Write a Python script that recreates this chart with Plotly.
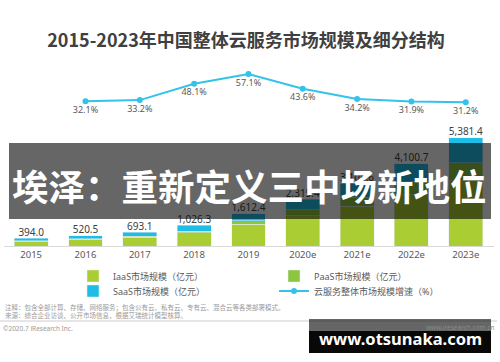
import plotly.graph_objects as go

categories = ["2015", "2016", "2017", "2018", "2019", "2020e", "2021e", "2022e", "2023e"]
iaas = [245.0, 333.0, 446.0, 657.0, 1074.0, 1510.0, 1990.0, 2560.0, 3240.0]
paas = [24.0, 31.0, 45.0, 86.0, 176.0, 300.0, 440.0, 640.0, 900.0]
saas = [125.0, 156.5, 202.1, 283.3, 362.4, 505.4, 678.6, 900.7, 1241.4]
totals = [394.0, 520.5, 693.1, 1026.3, 1612.4, 2315.4, 3108.6, 4100.7, 5381.4]
growth_cats = ["2016", "2017", "2018", "2019", "2020e", "2021e", "2022e", "2023e"]
growth = [32.1, 33.2, 48.1, 57.1, 43.6, 34.2, 31.9, 31.2]

title = "2015-2023年中国整体云服务市场规模及细分结构"
overlay_text = "埃泽：重新定义三中场新地位"
watermark = "www.otsunaka.com"
note1 = "注释：包含全部计算、存储、网络服务；包含公有云、私有云、专有云、混合云等各类部署模式。"
note2 = "来源：综合企业访谈、公开市场信息，根据艾瑞统计模型核算。"
copyright_txt = "©2020.7 iResearch Inc."
site_txt = "www.iresearch.com.cn"

W, H = 500, 362
L, R, T, B = 4, 6, 60, 116
PW = W - L - R
PH = H - T - B


def px2x(px):
    return (px - L) / PW


def py2y(py):
    return (H - B - py) / PH


FONT = "Noto Sans, Noto Sans CJK SC, sans-serif"
C_IAAS = "#aacd33"
C_PAAS = "#8cc63f"
C_SAAS = "#1fbde6"
C_LINE = "#33c2ea"

fig = go.Figure()
fig.add_trace(go.Bar(x=categories, y=iaas, name="IaaS市场规模（亿元）", marker_color=C_IAAS, legend="legend"))
fig.add_trace(go.Bar(x=categories, y=paas, name="PaaS市场规模（亿元）", marker_color=C_PAAS, legend="legend"))
fig.add_trace(go.Bar(x=categories, y=saas, name="SaaS市场规模（亿元）", marker_color=C_SAAS, legend="legend2"))
fig.add_trace(go.Scatter(
    x=categories, y=totals, mode="text", showlegend=False,
    text=[f"{v:,.1f}" for v in totals], textposition="top center",
    textfont=dict(size=10, color="#404040", family=FONT), hoverinfo="skip"))
fig.add_trace(go.Scatter(
    x=growth_cats, y=growth, yaxis="y2", name="云服务整体市场规模增速（%）", legend="legend2",
    mode="lines+markers+text", line=dict(color=C_LINE, width=2),
    marker=dict(color=C_LINE, size=6),
    text=[f"{v:.1f}%" for v in growth], textposition="bottom center",
    textfont=dict(size=9, color="#595959", family=FONT)))

annotations = [
    dict(text=note1, x=px2x(3), y=py2y(307), xanchor="left", yanchor="middle",
         font=dict(size=6.5, color="#9a9a9a", family=FONT)),
    dict(text=note2, x=px2x(3), y=py2y(315), xanchor="left", yanchor="middle",
         font=dict(size=6.5, color="#9a9a9a", family=FONT)),
    dict(text=copyright_txt, x=px2x(1), y=py2y(328), xanchor="left", yanchor="middle",
         font=dict(size=6.5, color="#9a9a9a", family=FONT)),
    dict(text=site_txt, x=px2x(497), y=py2y(327), xanchor="right", yanchor="middle",
         font=dict(size=6.5, color="#8a8a8a", family=FONT)),
    dict(text=overlay_text, x=px2x(249), y=py2y(185), xanchor="center", yanchor="middle",
         font=dict(size=36.5, color="white", family="Noto Sans CJK SC", weight="bold")),
    dict(text=watermark, x=px2x(400), y=py2y(338), xanchor="center", yanchor="middle",
         font=dict(size=16.5, color="white", family="Noto Sans", weight="bold")),
]
for a in annotations:
    a.update(xref="paper", yref="paper", showarrow=False)

shapes = [
    dict(type="line", x0=px2x(0), x1=px2x(497), y0=py2y(321), y1=py2y(321),
         line=dict(color="#cccccc", width=1)),
    dict(type="rect", x0=px2x(309), x1=px2x(491), y0=py2y(319), y1=py2y(331),
         fillcolor="rgba(0,0,0,0.6)", line_width=0),
    dict(type="rect", x0=px2x(309), x1=px2x(491), y0=py2y(331), y1=py2y(353),
         fillcolor="rgba(0,0,0,0.97)", line_width=0),
    dict(type="rect", x0=px2x(9), x1=px2x(491), y0=py2y(143), y1=py2y(219),
         fillcolor="rgba(0,0,0,0.6)", line_width=0),
]
for s in shapes:
    s.update(xref="paper", yref="paper", layer="above")

legend_common = dict(orientation="h", xanchor="left", yanchor="middle",
                     entrywidth=156, entrywidthmode="pixels", traceorder="normal",
                     font=dict(size=9, color="#595959", family=FONT),
                     bgcolor="rgba(0,0,0,0)", borderwidth=0)

fig.update_layout(
    width=W, height=H, margin=dict(l=L, r=R, t=T, b=B),
    paper_bgcolor="white", plot_bgcolor="white",
    barmode="stack", bargap=0.376,
    font=dict(family=FONT, color="#595959"),
    title=dict(text=title, x=246 / W, y=1 - 41 / H, xanchor="center", yanchor="middle",
               xref="container", yref="container",
               font=dict(size=18, color="#404040", family="Noto Sans CJK SC", weight="bold")),
    xaxis=dict(categoryorder="array", categoryarray=categories, showline=True,
               linecolor="#d9d9d9", linewidth=1, ticks="", showgrid=False,
               tickfont=dict(size=9.5, color="#595959"), automargin=False),
    yaxis=dict(range=[0, PH / 0.0201], visible=False, showgrid=False),
    yaxis2=dict(range=[57.1 - (H - B - 74) / 1.093, 57.1 + (74 - T) / 1.093],
                overlaying="y", visible=False, showgrid=False),
    legend=dict(x=px2x(73), y=py2y(276), **legend_common),
    legend2=dict(x=px2x(73), y=py2y(291), **legend_common),
    annotations=annotations, shapes=shapes, showlegend=True,
)

fig.write_html("out.html", config={"displayModeBar": False},
               post_script="document.body.style.margin='0';document.body.style.overflow='hidden';")
